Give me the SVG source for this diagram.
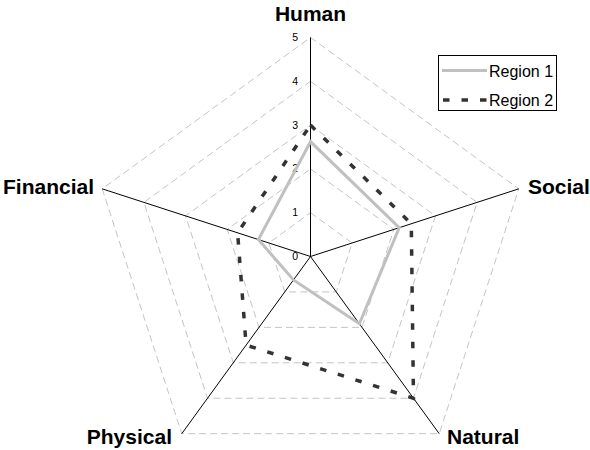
<svg xmlns="http://www.w3.org/2000/svg" width="590" height="450" viewBox="0 0 590 450">
  <style>
    .grid { fill: none; stroke: #c4c4c4; stroke-width: 1; stroke-dasharray: 7 4; }
    .axis { stroke: #000; stroke-width: 1; fill: none; }
    .tick { font-family: "Liberation Sans", Arial, sans-serif; font-size: 10.5px; fill: #000; text-anchor: end; }
    .cat { font-family: "Liberation Sans", Arial, sans-serif; font-size: 21px; font-weight: bold; fill: #000; }
    .r1 { fill: none; stroke: #c0c0c0; stroke-width: 3; stroke-linejoin: miter; }
    .r2 { fill: none; stroke: #333; stroke-width: 3.5; stroke-dasharray: 6.5 12; }
    .leg { font-family: "Liberation Sans", Arial, sans-serif; font-size: 16px; fill: #000; }
  </style>
  <rect width="590" height="450" fill="#fff"/>

  <!-- concentric grid rings, 1..5 -->
  <g id="grid">
    <polygon class="grid" points="310.5,212.7 352.16,242.97 336.25,291.93 284.75,291.93 268.84,242.97"/>
    <polygon class="grid" points="310.5,168.9 393.82,229.43 361.99,327.37 259.01,327.37 227.18,229.43"/>
    <polygon class="grid" points="310.5,125.1 435.47,215.9 387.74,362.8 233.26,362.8 185.53,215.9"/>
    <polygon class="grid" points="310.5,81.3 477.13,202.36 413.48,398.24 207.52,398.24 143.87,202.36"/>
    <polygon class="grid" points="310.5,37.5 518.79,188.83 439.23,433.67 181.77,433.67 102.21,188.83"/>
  </g>

  <!-- spokes -->
  <g id="axes">
    <line class="axis" x1="310.5" y1="256.5" x2="310.5" y2="37.5"/>
    <line class="axis" x1="310.5" y1="256.5" x2="518.79" y2="188.83"/>
    <line class="axis" x1="310.5" y1="256.5" x2="439.23" y2="433.67"/>
    <line class="axis" x1="310.5" y1="256.5" x2="181.77" y2="433.67"/>
    <line class="axis" x1="310.5" y1="256.5" x2="102.21" y2="188.83"/>
  </g>

  <!-- scale labels on the vertical spoke -->
  <g id="ticks">
    <text class="tick" x="298" y="260">0</text>
    <text class="tick" x="298" y="216.2">1</text>
    <text class="tick" x="298" y="172.4">2</text>
    <text class="tick" x="298" y="128.6">3</text>
    <text class="tick" x="298" y="84.8">4</text>
    <text class="tick" x="298" y="41">5</text>
  </g>

  <!-- data series -->
  <g id="connectors">
    <polygon id="region1" class="r1" points="310.5,141.7 399.2,227.7 359.4,323.8 293.5,279.9 258.4,239.6"/>
    <polygon id="region2" class="r2" points="310.5,125.1 411.3,223.7 413.48,398.24 246.1,345.1 237.6,232.8"/>
  </g>

  <!-- category labels -->
  <g id="node-human"><text class="cat" x="310.5" y="21" text-anchor="middle">Human</text></g>
  <g id="node-social"><text class="cat" x="528" y="194">Social</text></g>
  <g id="node-natural"><text class="cat" x="447" y="444">Natural</text></g>
  <g id="node-physical"><text class="cat" x="172" y="444" text-anchor="end">Physical</text></g>
  <g id="node-financial"><text class="cat" x="94" y="194" text-anchor="end">Financial</text></g>

  <!-- legend -->
  <g id="legend">
    <rect x="438.5" y="55.5" width="118" height="55" fill="#fff" stroke="#000" stroke-width="1"/>
    <line x1="442" y1="70.5" x2="487" y2="70.5" stroke="#c0c0c0" stroke-width="3"/>
    <text class="leg" x="489" y="76.5">Region 1</text>
    <line x1="443" y1="100" x2="488" y2="100" stroke="#333" stroke-width="3.5" stroke-dasharray="6.5 12"/>
    <text class="leg" x="489" y="106">Region 2</text>
  </g>
</svg>
